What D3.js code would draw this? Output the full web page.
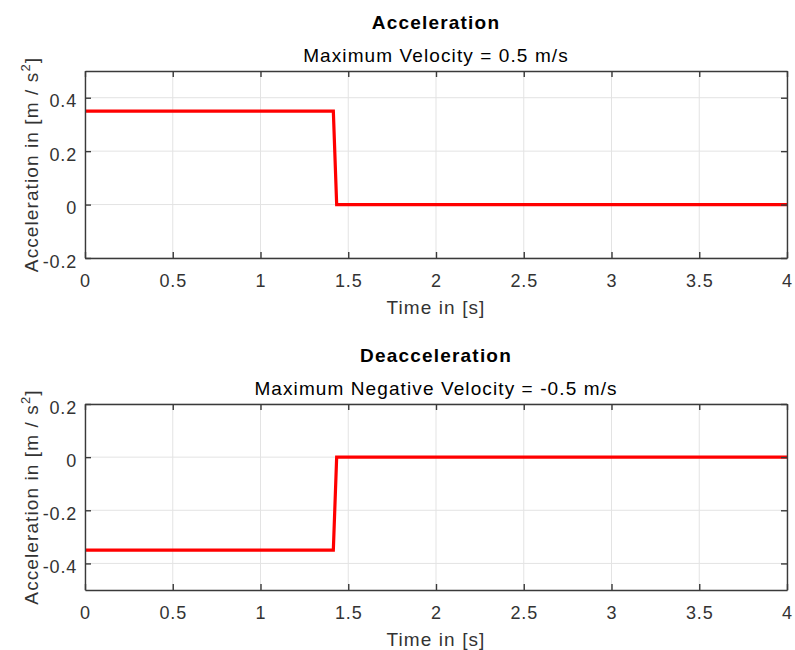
<!DOCTYPE html>
<html><head><meta charset="utf-8">
<script src="https://cdn.jsdelivr.net/npm/d3@7"></script>
<style>body{margin:0;background:#fff}svg{display:block}text{font-family:"Liberation Sans",Arial,sans-serif}</style>
</head><body>
<script>
const xTicks = [0,0.5,1,1.5,2,2.5,3,3.5,4];
const accTime = [0, 1.415, 1.434, 4];
const accValues = [0.35, 0.35, 0, 0];
const accYTicks = [-0.2,0,0.2,0.4];
const decTime = [0, 1.415, 1.434, 4];
const decValues = [-0.35, -0.35, 0, 0];
const decYTicks = [-0.4,-0.2,0,0.2];

const W=795,H=650;
const svg=d3.select("body").append("svg").attr("width",W).attr("height",H);
const fmt=d=>d3.format("~g")(d).replace("−","-");

function panel(top, bottom, yDomain, yTicks, times, vals, title, subtitle){
  const L=85,R=787;
  const x=d3.scaleLinear().domain([0,4]).range([L,R]);
  const y=d3.scaleLinear().domain(yDomain).range([bottom,top]);
  const g=svg.append("g");
  g.selectAll(".gx").data(xTicks).join("line").attr("x1",d=>x(d)).attr("x2",d=>x(d)).attr("y1",top).attr("y2",bottom).attr("stroke","#e3e3e3").attr("stroke-width",1);
  g.selectAll(".gy").data(yTicks).join("line").attr("y1",d=>y(d)).attr("y2",d=>y(d)).attr("x1",L).attr("x2",R).attr("stroke","#e3e3e3").attr("stroke-width",1);
  const line=d3.line().x(d=>x(d[0])).y(d=>y(d[1]));
  g.append("path").datum(times.map((t,i)=>[t,vals[i]])).attr("d",line).attr("fill","none").attr("stroke","#ff0000").attr("stroke-width",3.2).attr("stroke-linejoin","miter");
  const ax=g.append("g").attr("transform",`translate(0,${bottom})`).call(d3.axisBottom(x).tickValues(xTicks).tickFormat(fmt).tickSizeInner(-6).tickSizeOuter(0).tickPadding(16));
  const ax2=g.append("g").attr("transform",`translate(0,${top})`).call(d3.axisTop(x).tickValues(xTicks).tickFormat("").tickSizeInner(-6).tickSizeOuter(0));
  const ay=g.append("g").attr("transform",`translate(${L},0)`).call(d3.axisLeft(y).tickValues(yTicks).tickFormat(fmt).tickSizeInner(-6).tickSizeOuter(0).tickPadding(8));
  const ay2=g.append("g").attr("transform",`translate(${R},0)`).call(d3.axisRight(y).tickValues(yTicks).tickFormat("").tickSizeInner(-6).tickSizeOuter(0));
  [ax,ax2,ay,ay2].forEach(a=>{a.select(".domain").attr("stroke","#3a3a3a").attr("stroke-width",1.4);a.selectAll(".tick line").attr("stroke","#3a3a3a").attr("stroke-width",1.4);a.selectAll("text").attr("fill","#333").style("font-size","18px").style("letter-spacing","0.8px").style("font-family","'Liberation Sans',Arial,sans-serif");});
  ax.selectAll("text").attr("dy","0.71em");
  ay.selectAll("text").attr("dy","0.5em");
  const cx=(L+R)/2;
  g.append("text").attr("x",cx).attr("y",top-42).attr("text-anchor","middle").style("font-size","19px").style("letter-spacing","1.2px").style("font-weight","bold").attr("fill","#000").text(title);
  g.append("text").attr("x",cx).attr("y",top-9).attr("text-anchor","middle").style("font-size","19px").style("letter-spacing","1.1px").attr("fill","#000").text(subtitle);
  g.append("text").attr("x",cx).attr("y",bottom+56).attr("text-anchor","middle").style("font-size","19px").style("letter-spacing","1.1px").attr("fill","#333").text("Time in [s]");
  const yl=g.append("text").attr("transform",`translate(38,${(top+bottom)/2}) rotate(-90)`).attr("text-anchor","middle").style("font-size","19px").style("letter-spacing","1.1px").attr("fill","#333");
  yl.append("tspan").text("Acceleration in [m / s");
  yl.append("tspan").attr("dy","-8").style("font-size","13px").text("2");
  yl.append("tspan").attr("dy","8").text("]");
}
panel(71,258,[-0.2,0.5],accYTicks,accTime,accValues,"Acceleration","Maximum Velocity = 0.5 m/s");
panel(404,590,[-0.5,0.2],decYTicks,decTime,decValues,"Deacceleration","Maximum Negative Velocity = -0.5 m/s");
</script>
</body></html>
